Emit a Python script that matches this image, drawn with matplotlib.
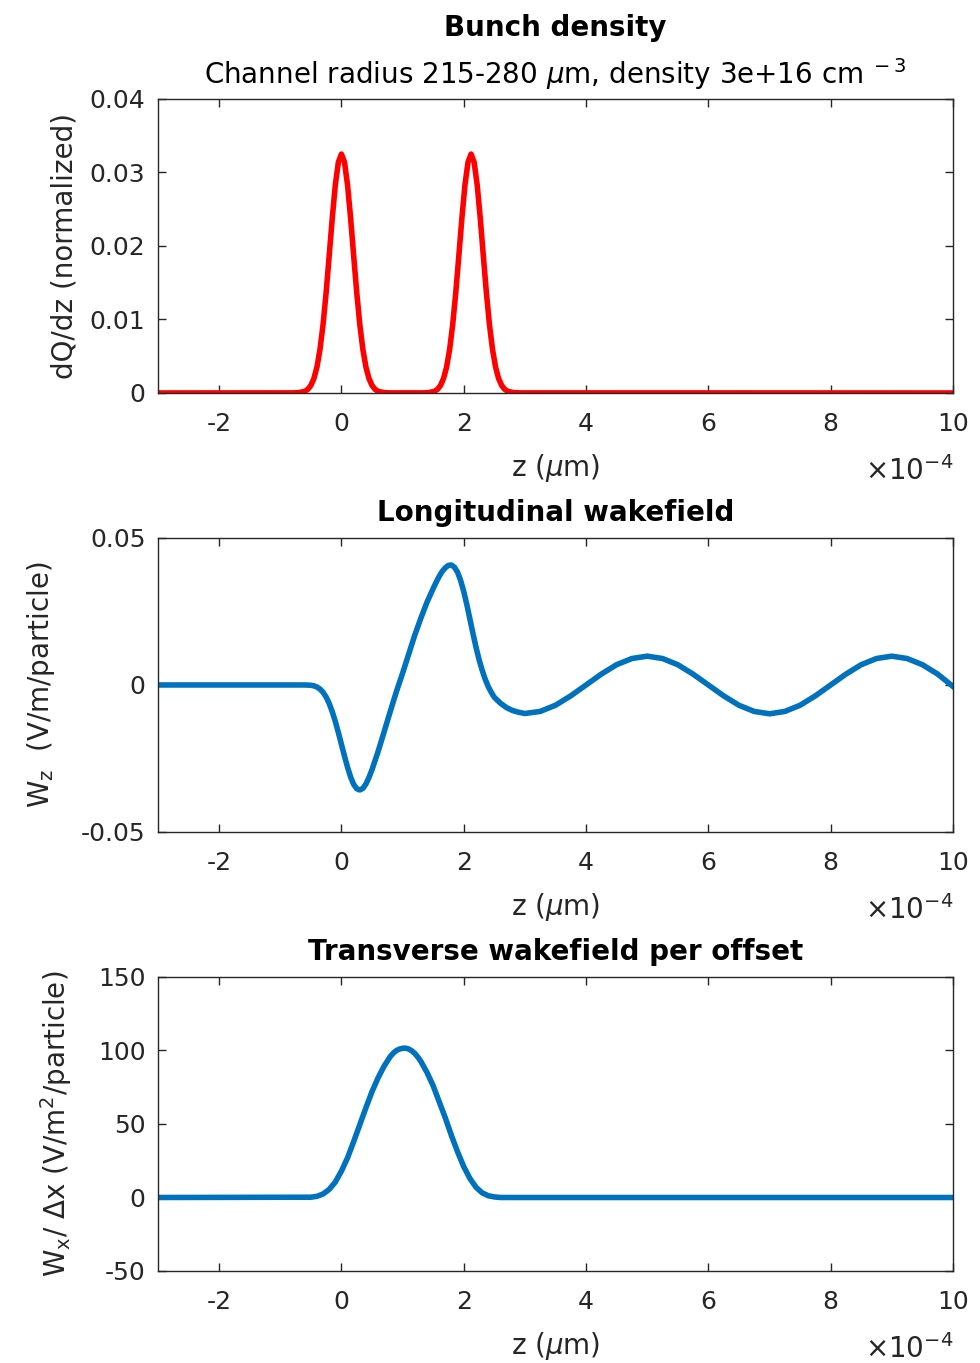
import numpy as np
import matplotlib
matplotlib.use("Agg")
from matplotlib import pyplot as plt

# z positions are in units of 1e-4 (the axis carries a x10^-4 multiplier)
bunch_z = [-3.0, -0.8, -0.7, -0.6, -0.55, -0.5, -0.45, -0.4, -0.35, -0.3, -0.25, -0.2,
           -0.15, -0.1, -0.05, 0.0, 0.05, 0.1, 0.15, 0.2, 0.25, 0.3, 0.35, 0.4, 0.45,
           0.5, 0.55, 0.6, 0.7, 0.8,
           1.32, 1.42, 1.52, 1.57, 1.62, 1.67, 1.72, 1.77, 1.82, 1.87, 1.92, 1.97,
           2.02, 2.07, 2.12, 2.17, 2.22, 2.27, 2.32, 2.37, 2.42, 2.47, 2.52, 2.57,
           2.62, 2.67, 2.72, 2.82, 2.92, 10.0]
bunch_q = [0.0, 0.00001, 0.00004, 0.00022, 0.00049, 0.00102, 0.00197, 0.00354, 0.00596,
           0.00934, 0.01368, 0.01868, 0.0238, 0.0283, 0.0314, 0.0325, 0.0314, 0.0283,
           0.0238, 0.01868, 0.01368, 0.00934, 0.00596, 0.00354, 0.00197, 0.00102, 0.00049,
           0.00022, 0.00004, 0.00001,
           0.00001, 0.00004, 0.00022, 0.00049, 0.00102, 0.00197, 0.00354, 0.00596,
           0.00934, 0.01368, 0.01868, 0.0238, 0.0283, 0.0314, 0.0325, 0.0314, 0.0283,
           0.0238, 0.01868, 0.01368, 0.00934, 0.00596, 0.00354, 0.00197, 0.00102, 0.00049,
           0.00022, 0.00004, 0.00001, 0.0]

wz_z = [-3.0, -0.6, -0.5, -0.45, -0.4, -0.35, -0.3, -0.25, -0.2, -0.15, -0.1, -0.05,
        0.0, 0.05, 0.1, 0.15, 0.2, 0.25, 0.3, 0.35, 0.4, 0.45, 0.5, 0.6, 0.7, 0.8, 0.9,
        1.0, 1.1, 1.2, 1.3, 1.4, 1.5, 1.55, 1.6, 1.65, 1.7, 1.75, 1.8, 1.85, 1.9, 1.95,
        2.0, 2.05, 2.1, 2.15, 2.2, 2.25, 2.3, 2.35, 2.4, 2.45, 2.5, 2.6, 2.7, 2.8, 2.9,
        3.0, 3.25, 3.5, 3.75, 4.0, 4.25, 4.5, 4.75, 5.0, 5.25, 5.5, 5.75, 6.0, 6.25,
        6.5, 6.75, 7.0, 7.25, 7.5, 7.75, 8.0, 8.25, 8.5, 8.75, 9.0, 9.25, 9.5, 9.75, 10.0]
wz_val = [0.0, 0.0, -0.0001, -0.0003, -0.0007, -0.0014, -0.0025, -0.0041, -0.0063,
          -0.0091, -0.0124, -0.0162, -0.0202, -0.0242, -0.0280, -0.0313, -0.0338, -0.0353,
          -0.0357, -0.0352, -0.0337, -0.0315, -0.0288, -0.0226, -0.0158, -0.0089, -0.0022,
          0.0040, 0.0105, 0.0170, 0.0228, 0.0282, 0.0328, 0.0350, 0.0370, 0.0387, 0.0399,
          0.0407, 0.0408, 0.0400, 0.0383, 0.0355, 0.0318, 0.0274, 0.0225, 0.0176, 0.0129,
          0.0087, 0.0051, 0.0020, -0.0005, -0.0025, -0.0042, -0.0062, -0.0077, -0.0087,
          -0.0093, -0.0097, -0.0090, -0.0069, -0.0037, 0.0, 0.0037, 0.0069, 0.0090,
          0.0098, 0.0090, 0.0069, 0.0037, 0.0, -0.0037, -0.0069, -0.0090, -0.0098,
          -0.0090, -0.0069, -0.0037, 0.0, 0.0037, 0.0069, 0.0090, 0.0098, 0.0090,
          0.0069, 0.0037, -0.0005]

wx_z = [-3.0, -0.5, -0.4, -0.3, -0.2, -0.1, 0.0, 0.1, 0.2, 0.3, 0.4, 0.5, 0.6, 0.7, 0.8,
        0.85, 0.9, 0.95, 1.0, 1.05, 1.1, 1.15, 1.2, 1.25, 1.3, 1.4, 1.5, 1.6, 1.7, 1.8,
        1.9, 2.0, 2.1, 2.2, 2.3, 2.4, 2.5, 2.6, 10.0]
wx_val = [0.0, 0.2, 0.8, 2.4, 5.5, 10.5, 18.0, 27.0, 38.0, 49.5, 61.0, 72.0, 81.5, 89.5,
          96.0, 98.3, 100.0, 101.0, 101.5, 101.6, 101.0, 99.8, 98.0, 95.5, 92.5, 85.0,
          76.0, 65.0, 54.0, 42.0, 31.0, 21.0, 13.0, 7.0, 3.2, 1.2, 0.4, 0.0, 0.0]

xticks = [-2, 0, 2, 4, 6, 8, 10]

plt.rcParams["font.family"] = ["DejaVu Sans"]
plt.rcParams["mathtext.fontset"] = "dejavusans"
axcol = "#262626"
blue = "#0072BD"

fig = plt.figure(figsize=(9.8, 13.63), dpi=100)
left, width, height = 0.1612, 0.8112, 0.2157
bottoms = [0.7117, 0.3896, 0.0675]
axes = [fig.add_axes([left, b, width, height]) for b in bottoms]

axes[0].plot(bunch_z, bunch_q, color="red", lw=4, solid_joinstyle="round")
axes[1].plot(wz_z, wz_val, color=blue, lw=4, solid_joinstyle="round")
axes[2].plot(wx_z, wx_val, color=blue, lw=4, solid_joinstyle="round")

axes[0].set_ylim(0, 0.04)
axes[0].set_yticks([0, 0.01, 0.02, 0.03, 0.04])
axes[0].set_yticklabels(["0", "0.01", "0.02", "0.03", "0.04"])
axes[1].set_ylim(-0.05, 0.05)
axes[1].set_yticks([-0.05, 0, 0.05])
axes[1].set_yticklabels(["-0.05", "0", "0.05"])
axes[2].set_ylim(-50, 150)
axes[2].set_yticks([-50, 0, 50, 100, 150])
axes[2].set_yticklabels(["-50", "0", "50", "100", "150"])

ylabels = ["dQ/dz (normalized)", "W$_\\mathregular{z}$  (V/m/particle)",
           "W$_\\mathregular{x}$/ $\\Delta$x (V/m$^2$/particle)"]
ylabel_x = [-0.10, -0.127, -0.106]
titles = ["Bunch density", "Longitudinal wakefield", "Transverse wakefield per offset"]

for ax, yl, lx in zip(axes, ylabels, ylabel_x):
    ax.set_xlim(-3, 10)
    ax.set_xticks(xticks)
    ax.set_xticklabels([str(t) for t in xticks])
    ax.tick_params(direction="in", top=True, right=True, length=6, width=1,
                   colors=axcol, labelsize=18)
    ax.tick_params(axis="x", pad=14)
    ax.tick_params(axis="y", pad=9)
    for sp in ax.spines.values():
        sp.set_color(axcol)
        sp.set_linewidth(1)
    ax.set_xlabel("z ($\\mu$m)", fontsize=20, color=axcol)
    ax.xaxis.set_label_coords(0.5, -0.2)
    ax.set_ylabel(yl, fontsize=20, color=axcol)
    ax.yaxis.set_label_coords(lx, 0.5)
    ax.text(1.0, -0.265, "$\\times10^{-4}$", transform=ax.transAxes, ha="right",
            va="center", fontsize=20, color=axcol)

axes[0].text(0.5, 1.24, titles[0], transform=axes[0].transAxes, ha="center",
             va="center", fontsize=20, fontweight="bold")
axes[0].text(0.5, 1.085, "Channel radius 215-280 $\\mu$m, density 3e+16 cm$^{\\ -3}$",
             transform=axes[0].transAxes, ha="center", va="center", fontsize=20)
axes[1].set_title(titles[1], fontsize=20, fontweight="bold", pad=12)
axes[2].set_title(titles[2], fontsize=20, fontweight="bold", pad=12)

fig.savefig("out.png", dpi=100)
